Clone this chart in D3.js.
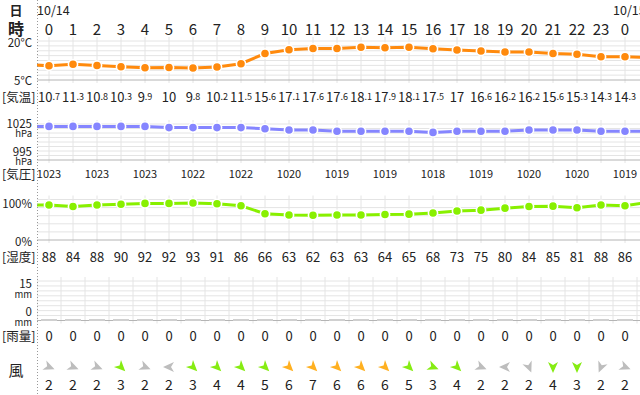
<!DOCTYPE html>
<html>
<head>
<meta charset="utf-8">
<script src="https://cdn.jsdelivr.net/npm/d3@7"></script>
<style>
body { margin: 0; background: #fff; }
svg { display: block; font-family: "Noto Sans CJK JP", "Noto Sans", sans-serif; }
</style>
</head>
<body>
<svg id="chart" width="640" height="395"></svg>
<script>
// hourly forecast, 10/14 0時 - 10/15 0時
const hours = [0,1,2,3,4,5,6,7,8,9,10,11,12,13,14,15,16,17,18,19,20,21,22,23,0];
const day_labels = ["10/14", "10/15"];
const day_cols = [0, 24];

const temps = [10.7,11.3,10.8,10.3,9.9,10,9.8,10.2,11.5,15.6,17.1,17.6,17.6,18.1,17.9,18.1,17.5,17,16.6,16.2,16.2,15.6,15.3,14.3,14.3];
const temps_edge = [11.2, 14.0];          // hour before / after the window (only the line shows)
const pressure = [1023,1023,1023,1023,1023,1022,1022,1022,1022,1021,1020,1020,1019,1019,1019,1019,1018,1019,1019,1019,1020,1020,1020,1019,1019];
const pressure_edge = [1023, 1019];
const humidity = [88,84,88,90,92,92,93,91,86,66,63,62,63,63,64,65,68,73,75,80,84,85,81,88,86];
const humidity_edge = [88, 95];
const rain = [0,0,0,0,0,0,0,0,0,0,0,0,0,0,0,0,0,0,0,0,0,0,0,0,0];
const wind_speed = [2,2,2,3,2,2,3,4,4,5,6,7,6,6,6,5,3,4,2,2,2,4,3,2,2];
const wind_dir = ["西北西","西北西","西北西","北西","西北西","東","北西","北西","北西","北西","北西","北西","北西","北西","北西","北西","西北西","北西","西北西","東","北北西","北","北","北北東","西北西"];

const BEARING = {"北":0,"北北東":22.5,"北東":45,"東北東":67.5,"東":90,"東南東":112.5,"南東":135,"南南東":157.5,
  "南":180,"南南西":202.5,"南西":225,"西南西":247.5,"西":270,"西北西":292.5,"北西":315,"北北西":337.5};

const svg = d3.select("#chart");
const left_edge = 37;
const x = d3.scaleLinear().domain([0, 24]).range([49, 625]);

const grid_color = "#e4e4e4";
const axis_color = "#b4b4b4";
const text_color = "#222";

svg.append("defs").append("clipPath").attr("id", "plot")
  .append("rect").attr("x", left_edge).attr("y", 0).attr("width", 640 - left_edge).attr("height", 395);

const plot = svg.append("g").attr("clip-path", "url(#plot)");

//
// header
//
svg.append("text").attr("x", 16).attr("y", 9).attr("text-anchor", "middle").attr("dominant-baseline", "central")
  .style("font-size", "13px").style("font-weight", "bold").attr("fill", text_color).text("日");
svg.append("text").attr("x", 16).attr("y", 28).attr("text-anchor", "middle").attr("dominant-baseline", "central")
  .style("font-size", "16px").style("font-weight", "bold").attr("fill", text_color).text("時");

plot.selectAll("text.day").data(day_labels).join("text")
  .attr("class", "day")
  .attr("x", (d, i) => x(day_cols[i]) - 12)
  .attr("y", 9)
  .attr("dominant-baseline", "central")
  .style("font-size", "12.5px").attr("fill", text_color)
  .text(d => d);

plot.selectAll("text.hour").data(hours).join("text")
  .attr("class", "hour")
  .attr("x", (d, i) => x(i))
  .attr("y", 28)
  .attr("text-anchor", "middle").attr("dominant-baseline", "central")
  .style("font-size", "15px").attr("fill", text_color)
  .text(d => d);

//
// panel helpers
//
function panel_grid(top, bottom, n, offset) {
  const g = plot.append("g");
  const step = (bottom - top) / n;
  for (let k = 0; k < n; k++) {
    g.append("line").attr("x1", left_edge).attr("x2", 640)
      .attr("y1", top + k * step).attr("y2", top + k * step)
      .attr("stroke", grid_color).attr("stroke-width", 1);
  }
  const cols = d3.range(0, 26);
  g.selectAll("line.v").data(cols).join("line")
    .attr("class", "v")
    .attr("x1", d => x(d) + offset).attr("x2", d => x(d) + offset)
    .attr("y1", top - 4).attr("y2", bottom + 3)
    .attr("stroke", grid_color).attr("stroke-width", 1);
  g.append("line").attr("x1", left_edge).attr("x2", 640)
    .attr("y1", bottom).attr("y2", bottom)
    .attr("stroke", axis_color).attr("stroke-width", 1);
  return g;
}

function series(values, edge, y, color) {
  const pts = [[-1, edge[0]]].concat(values.map((v, i) => [i, v]), [[25, edge[1]]]);
  const g = plot.append("g");
  g.append("path")
    .attr("d", d3.line().x(d => x(d[0])).y(d => y(d[1]))(pts))
    .attr("fill", "none").attr("stroke", color).attr("stroke-width", 3);
  g.selectAll("circle").data(values).join("circle")
    .attr("cx", (d, i) => x(i)).attr("cy", d => y(d))
    .attr("r", 4.6).attr("fill", color)
    .attr("stroke", "#fff").attr("stroke-width", 1.6);
}

// value label, optionally with a small unit line underneath
function left_label(value, unit, y) {
  svg.append("text").attr("x", 32).attr("y", y).attr("text-anchor", "end")
    .attr("dominant-baseline", "central").attr("fill", text_color)
    .style("font-size", "11.5px").text(value);
  if (unit) {
    svg.append("text").attr("x", 32).attr("y", y + 10.5).attr("text-anchor", "end")
      .attr("dominant-baseline", "central").attr("fill", text_color)
      .style("font-size", "9.5px").text(unit);
  }
}

function row_label(txt, y) {
  svg.append("text").attr("x", 2).attr("y", y).attr("dominant-baseline", "central")
    .style("font-size", "12.5px").attr("fill", text_color).text(txt);
}

//
// 気温
//
const y_temp = d3.scaleLinear().domain([5, 20]).range([80, 42.5]);
panel_grid(41, 80, 8, 0);
series(temps, temps_edge, y_temp, "#ff8a0d");
left_label("20°C", null, 42);
left_label("5°C", null, 80);
row_label("[気温]", 96);

const temp_text = plot.selectAll("text.temp").data(temps).join("text")
  .attr("class", "temp")
  .attr("x", (d, i) => x(i)).attr("y", 96)
  .attr("text-anchor", "middle").attr("dominant-baseline", "central")
  .attr("fill", text_color);
temp_text.append("tspan").style("font-size", "13px").text(d => Math.trunc(d));
temp_text.append("tspan").style("font-size", "9px")
  .text(d => Number.isInteger(d) ? "" : "." + Math.round((d % 1) * 10));

//
// 気圧
//
const y_pres = d3.scaleLinear().domain([995, 1025]).range([160, 124]);
panel_grid(124, 160, 8, 0);
series(pressure, pressure_edge, y_pres, "#8585ff");
left_label("1025", "hPa", 122.5);
left_label("995", "hPa", 150.5);
row_label("[気圧]", 173);

plot.selectAll("text.pres").data(pressure).join("text")
  .attr("class", "pres")
  .attr("x", (d, i) => x(i)).attr("y", 173)
  .attr("text-anchor", "middle").attr("dominant-baseline", "central")
  .style("font-size", "11px").attr("fill", text_color)
  .text((d, i) => i % 2 === 0 ? d : "");

//
// 湿度
//
const y_hum = d3.scaleLinear().domain([0, 100]).range([240, 200.2]);
panel_grid(199.5, 240, 5, 0);
series(humidity, humidity_edge, y_hum, "#88f000");
left_label("100%", null, 203);
left_label("0%", null, 241);
row_label("[湿度]", 256);

plot.selectAll("text.hum").data(humidity).join("text")
  .attr("class", "hum")
  .attr("x", (d, i) => x(i)).attr("y", 256)
  .attr("text-anchor", "middle").attr("dominant-baseline", "central")
  .style("font-size", "13px").attr("fill", text_color)
  .text(d => d);

//
// 雨量
//
const y_rain = d3.scaleLinear().domain([0, 15]).range([320.5, 281]);
panel_grid(281, 320.5, 8, -12);
plot.selectAll("line.rain").data(rain).join("line")
  .attr("class", "rain")
  .attr("x1", (d, i) => x(i) - 8).attr("x2", (d, i) => x(i) + 8)
  .attr("y1", d => y_rain(d) - 0.5).attr("y2", d => y_rain(d) - 0.5)
  .attr("stroke", "#d0d0d0").attr("stroke-width", 2);
left_label("15", "mm", 283);
left_label("0", "mm", 311);
row_label("[雨量]", 335);

plot.selectAll("text.rain").data(rain).join("text")
  .attr("class", "rain")
  .attr("x", (d, i) => x(i)).attr("y", 335)
  .attr("text-anchor", "middle").attr("dominant-baseline", "central")
  .style("font-size", "13px").attr("fill", text_color)
  .text(d => d);

//
// 風
//
svg.append("text").attr("x", 16).attr("y", 369).attr("text-anchor", "middle").attr("dominant-baseline", "central")
  .style("font-size", "15px").attr("fill", text_color).text("風");

const wind_color = d3.scaleThreshold().domain([3, 6]).range(["#bdbdbd", "#86ec12", "#ffb020"]);

plot.selectAll("path.wind").data(wind_dir).join("path")
  .attr("class", "wind")
  .attr("d", "M6,0 L-5,-5 L-2,0 L-5,5 Z")
  .attr("transform", (d, i) => `translate(${x(i)},367) rotate(${BEARING[d] + 180 - 90})`)
  .attr("fill", (d, i) => wind_color(wind_speed[i]));

plot.selectAll("text.wind").data(wind_speed).join("text")
  .attr("class", "wind")
  .attr("x", (d, i) => x(i)).attr("y", 384)
  .attr("text-anchor", "middle").attr("dominant-baseline", "central")
  .style("font-size", "14px").attr("fill", text_color)
  .text(d => d);

// dotted separator between label column and chart
svg.append("line").attr("x1", left_edge + 0.5).attr("x2", left_edge + 0.5)
  .attr("y1", 0).attr("y2", 395)
  .attr("stroke", "#999").attr("stroke-width", 1).attr("stroke-dasharray", "1,2");
</script>
</body>
</html>
